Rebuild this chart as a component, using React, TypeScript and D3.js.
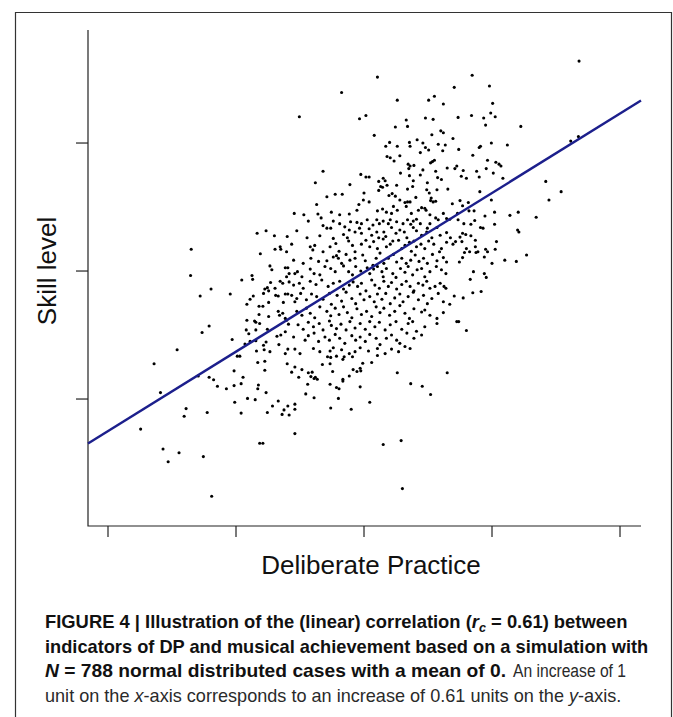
import React, { useLayoutEffect, useRef, useState } from "react";
import * as d3 from "d3";

// Unlabelled axes: ticks every 2 SD units
const xTicks = [-4, -2, 0, 2, 4];
const yTicks = [-2, 0, 2];
const xDomain = [-4.3125, 4.328];
const yDomain = [-3.984, 3.766];
const slope = 0.62;
const intercept = -0.02;

const xLabel = "Deliberate Practice";
const yLabel = "Skill level";

// [deliberate practice, skill level], grouped by region
const groupTopCenter: number[][] = [
  [0.21,3.03],[-0.35,2.79],[0.52,2.67],[1.01,2.67],[1.10,2.73],[1.24,2.61],[-1.01,2.41],[-0.07,2.38],[0.03,2.43],[0.66,2.36],
  [0.96,2.39],[1.08,2.37],[0.49,2.25],[0.68,2.26],[0.16,2.12],[1.06,2.13],[1.20,2.19],[1.24,2.16],[0.34,1.95],[0.40,2.01],
  [0.52,1.95],[0.71,2.01],[0.72,1.95],[0.83,2.05],[0.92,2.00],[0.96,1.93],[1.01,1.89],[1.16,1.98],[1.27,1.97],[0.88,1.85],
  [1.23,1.88],[0.36,1.79],[0.41,1.77],[0.47,1.72],[0.56,1.80],[0.69,1.67],[0.72,1.64],[0.78,1.65],[0.70,1.60],[1.04,1.69],
  [1.07,1.71],[1.10,1.73],[-0.64,1.56],[-0.05,1.51],[0.03,1.47],[0.08,1.47],[0.57,1.53],[0.71,1.49],[0.92,1.58],[1.12,1.56],
  [1.30,1.61],[0.88,1.50],[1.15,1.46],[1.21,1.43],[-0.76,1.38],[-0.22,1.35],[0.23,1.40],[0.30,1.45],[0.33,1.41],[0.26,1.32],
  [0.29,1.31],[0.36,1.34],[0.51,1.34],[0.77,1.41],[0.99,1.38],[0.68,1.28],[0.76,1.32],[0.23,1.26],[0.98,1.27],[1.02,1.22],
  [1.14,1.27],[1.31,1.28],[-0.58,1.16],[-0.45,1.20],[-0.34,1.20],[0.00,1.22],[0.39,1.18],[0.44,1.21],[0.49,1.17],[0.56,1.11],
  [0.72,1.08],[0.81,1.15],[1.05,1.14],[1.04,1.10],[1.08,1.08],[1.12,1.09],[-0.74,1.04],[-0.08,1.04],[-0.01,1.11],[0.08,1.08],
  [0.64,1.07],[0.68,1.08],
];

const groupTopRight: number[][] = [
  [3.36,3.28],[1.69,3.06],[1.41,2.87],[1.96,2.89],[2.01,2.62],[1.47,2.40],[1.68,2.43],[1.87,2.39],[1.98,2.47],[2.05,2.41],
  [1.90,2.28],[2.45,2.26],[1.39,2.07],[3.23,2.03],[3.35,2.10],[1.48,1.90],[1.99,2.00],[1.80,1.93],[1.82,1.95],[2.24,1.97],
  [1.70,1.81],[1.42,1.60],[1.45,1.64],[1.55,1.57],[1.93,1.73],[2.06,1.70],[2.11,1.67],[2.14,1.64],[1.76,1.56],[1.91,1.60],
  [2.02,1.53],[1.52,1.48],[1.60,1.45],[1.80,1.47],[2.17,1.45],[2.84,1.40],[1.81,1.24],[3.08,1.24],[1.38,1.05],[1.50,1.10],
  [1.63,1.07],[1.99,1.11],[2.89,1.11],
];

const groupLeftMid: number[][] = [
  [-1.67,0.59],[-1.53,0.63],[-1.40,0.55],[-1.20,0.54],[-2.70,0.34],[-1.62,0.27],[-1.39,0.34],[-1.31,0.38],[-1.30,0.34],[-1.21,0.30],
  [-2.71,-0.07],[-1.47,0.08],[-1.44,0.02],[-1.23,0.05],[-1.19,0.05],[-1.17,-0.04],[-1.21,-0.09],[-1.91,-0.14],[-1.75,-0.07],[-1.74,-0.13],
  [-1.31,-0.16],[-1.27,-0.19],[-1.17,-0.17],[-1.46,-0.18],[-2.39,-0.28],[-2.56,-0.39],[-2.09,-0.36],[-1.57,-0.35],[-1.55,-0.28],[-1.51,-0.26],
  [-1.49,-0.31],[-1.39,-0.27],[-1.38,-0.38],[-1.34,-0.39],[-1.23,-0.36],[-1.19,-0.36],[-1.78,-0.44],[-1.73,-0.39],[-1.83,-0.52],[-1.64,-0.55],
  [-1.58,-0.55],[-1.49,-0.49],[-1.26,-0.49],[-1.34,-0.63],[-1.32,-0.69],[-1.27,-0.66],[-1.83,-0.77],[-1.71,-0.78],[-1.69,-0.80],[-1.63,-0.82],
  [-1.23,-0.74],[-1.64,-0.68],[-1.49,-0.71],[-2.42,-0.86],[-2.53,-0.96],[-1.84,-0.92],[-1.69,-0.92],[-1.51,-0.91],[-1.36,-1.02],[-1.30,-1.00],
  [-1.23,-0.95],[-1.18,-0.83],[-1.21,-0.77],[-2.06,-1.07],[-1.86,-1.14],[-1.80,-0.98],[-1.78,-1.10],[-1.69,-1.09],[-1.57,-1.16],[-1.53,-1.11],
  [-1.56,-1.23],[-1.47,-1.26],[-1.68,-1.25],[-2.92,-1.23],[-1.33,-1.15],[-1.19,-1.22],[-1.23,-1.29],
];

const groupCenter: number[][] = [
  [-1.09,0.90],[-0.94,0.88],[-0.72,0.89],[-0.67,0.83],[-0.51,0.92],[-0.38,0.88],[-0.23,0.89],[-0.11,0.95],[0.21,0.94],[0.29,0.97],
  [0.35,0.92],[0.43,0.90],[0.46,1.01],[0.52,0.95],[0.66,1.01],[0.74,0.90],[0.85,0.95],[0.95,0.98],[1.03,0.88],[1.12,0.83],
  [1.24,0.90],[0.90,0.99],[0.97,0.95],
  [-0.87,0.78],[-0.48,0.78],[-0.38,0.74],[-0.30,0.69],[-0.21,0.77],[-0.11,0.76],[-0.04,0.74],[0.05,0.80],[0.14,0.72],[0.20,0.80],
  [0.24,0.74],[0.30,0.78],[0.38,0.74],[0.41,0.80],[0.51,0.77],[0.61,0.74],[0.68,0.80],[0.73,0.73],[0.77,0.78],[0.82,0.81],
  [0.88,0.74],[1.03,0.74],[1.16,0.80],[1.29,0.82],[-0.64,0.71],[-0.52,0.67],
  [-1.05,0.63],[-0.89,0.52],[-0.69,0.55],[-0.58,0.67],[-0.48,0.51],[-0.32,0.57],[-0.26,0.52],[-0.23,0.64],[-0.14,0.61],[-0.07,0.67],
  [-0.04,0.59],[0.08,0.66],[0.12,0.56],[0.20,0.61],[0.23,0.52],[0.31,0.61],[0.34,0.54],[0.43,0.68],[0.50,0.59],[0.56,0.64],
  [0.63,0.61],[0.67,0.52],[0.77,0.68],[0.82,0.63],[0.90,0.56],[0.98,0.61],[1.06,0.52],[1.14,0.68],[1.19,0.56],[1.29,0.60],[0.99,0.67],
  [-1.13,0.42],[-0.84,0.38],[-0.80,0.33],[-0.77,0.40],[-0.64,0.30],[-0.53,0.38],[-0.44,0.43],[-0.39,0.31],[-0.24,0.47],[-0.18,0.40],
  [-0.14,0.30],[-0.04,0.42],[0.03,0.48],[0.09,0.38],[0.15,0.46],[0.21,0.35],[0.30,0.50],[0.35,0.38],[0.41,0.42],[0.45,0.47],
  [0.54,0.48],[0.59,0.35],[0.64,0.40],[0.71,0.45],[0.78,0.47],[0.82,0.38],[0.89,0.42],[0.95,0.35],[1.01,0.47],[1.09,0.42],
  [1.21,0.35],[1.29,0.45],[0.74,0.31],
  [-1.10,0.17],[-0.95,0.12],[-0.83,0.20],[-0.71,0.15],[-0.58,0.16],[-0.48,0.22],[-0.43,0.24],[-0.40,0.20],[-0.35,0.12],[-0.28,0.26],
  [-0.22,0.17],[-0.14,0.20],[-0.02,0.25],[0.02,0.16],[0.14,0.09],[0.19,0.20],[0.25,0.28],[0.31,0.12],[0.38,0.20],[0.46,0.26],
  [0.51,0.14],[0.59,0.20],[0.66,0.12],[0.73,0.17],[0.80,0.25],[0.86,0.15],[0.93,0.20],[0.99,0.12],[1.07,0.26],[1.14,0.16],
  [1.24,0.21],[1.29,0.14],[1.18,0.30],
  [-1.08,-0.04],[-1.04,-0.01],[-0.97,-0.09],[-0.84,0.03],[-0.78,-0.04],[-0.69,-0.06],[-0.61,0.07],[-0.52,0.04],[-0.45,-0.01],[-0.32,0.08],
  [-0.24,-0.01],[-0.18,-0.06],[-0.13,0.07],[-0.05,0.00],[0.05,0.05],[0.09,-0.04],[0.15,0.03],[0.21,0.07],[0.28,-0.01],[0.30,-0.09],
  [0.35,0.04],[0.45,-0.04],[0.50,-0.10],[0.57,0.04],[0.64,-0.02],[0.69,0.07],[0.76,-0.06],[0.83,0.02],[0.90,0.04],[0.95,-0.09],
  [1.03,-0.01],[1.13,0.07],[1.21,0.02],[1.28,-0.04],
  [-1.10,-0.22],[-1.01,-0.19],[-0.95,-0.27],[-0.84,-0.16],[-0.75,-0.21],[-0.66,-0.14],[-0.56,-0.24],[-0.48,-0.19],[-0.38,-0.16],[-0.32,-0.28],
  [-0.23,-0.22],[-0.17,-0.17],[-0.10,-0.24],[-0.04,-0.19],[0.03,-0.31],[0.12,-0.14],[0.17,-0.22],[0.24,-0.27],[0.31,-0.16],[0.38,-0.24],
  [0.43,-0.18],[0.51,-0.28],[0.59,-0.21],[0.66,-0.16],[0.72,-0.24],[0.78,-0.31],[0.85,-0.19],[0.92,-0.22],[0.98,-0.16],[1.03,-0.27],
  [1.11,-0.24],[1.19,-0.19],[1.25,-0.24],[1.28,-0.27],
  [-1.13,-0.38],[-1.08,-0.48],[-1.05,-0.43],[-0.99,-0.35],[-0.90,-0.45],[-0.82,-0.36],[-0.74,-0.40],[-0.64,-0.44],[-0.54,-0.35],[-0.51,-0.52],
  [-0.42,-0.38],[-0.35,-0.47],[-0.28,-0.33],[-0.19,-0.43],[-0.13,-0.51],[-0.06,-0.36],[0.00,-0.45],[0.09,-0.40],[0.16,-0.48],[0.21,-0.36],
  [0.28,-0.44],[0.34,-0.35],[0.41,-0.51],[0.48,-0.42],[0.56,-0.36],[0.61,-0.48],[0.69,-0.40],[0.77,-0.33],[0.85,-0.45],[0.93,-0.38],
  [0.99,-0.51],[1.06,-0.43],[1.16,-0.35],[1.24,-0.48],
  [-1.05,-0.63],[-0.97,-0.69],[-0.90,-0.58],[-0.84,-0.66],[-0.77,-0.73],[-0.69,-0.56],[-0.58,-0.63],[-0.52,-0.70],[-0.45,-0.58],[-0.39,-0.68],
  [-0.32,-0.56],[-0.26,-0.65],[-0.19,-0.73],[-0.11,-0.59],[-0.04,-0.68],[0.04,-0.63],[0.12,-0.71],[0.19,-0.56],[0.25,-0.65],[0.31,-0.58],
  [0.40,-0.69],[0.48,-0.63],[0.56,-0.54],[0.64,-0.66],[0.71,-0.74],[0.78,-0.59],[0.90,-0.64],[0.95,-0.61],[1.03,-0.69],[1.14,-0.74],[1.24,-0.65],
  [-1.03,-0.84],[-0.95,-0.91],[-0.87,-0.80],[-0.79,-0.87],[-0.70,-0.82],[-0.64,-0.92],[-0.54,-0.78],[-0.51,-0.85],[-0.43,-0.90],[-0.36,-0.83],
  [-0.28,-0.92],[-0.22,-0.79],[-0.14,-0.89],[-0.06,-0.82],[0.02,-0.91],[0.09,-0.79],[0.17,-0.87],[0.24,-0.80],[0.33,-0.92],[0.41,-0.84],
  [0.50,-0.79],[0.59,-0.91],[0.69,-0.82],[0.76,-0.79],[0.82,-0.94],[0.95,-0.87],[1.14,-0.82],
  [-1.10,-1.03],[-0.92,-1.08],[-0.87,-1.01],[-0.78,-0.97],[-0.71,-1.10],[-0.61,-1.03],[-0.54,-1.08],[-0.45,-0.99],[-0.38,-1.05],[-0.30,-1.13],
  [-0.19,-1.01],[-0.13,-1.08],[-0.06,-1.03],[0.02,-1.10],[0.09,-0.99],[0.19,-1.05],[0.25,-1.15],[0.35,-1.05],[0.43,-1.00],[0.51,-1.08],
  [0.56,-1.13],[0.67,-0.97],[0.78,-1.05],[0.90,-1.00],
  [-1.08,-1.22],[-1.00,-1.29],[-0.79,-1.21],[-0.69,-1.26],[-0.53,-1.25],[-0.48,-1.20],[-0.35,-1.23],[-0.23,-1.29],[-0.14,-1.26],[-0.06,-1.20],
  [0.07,-1.25],[0.21,-1.21],[0.33,-1.29],[0.43,-1.22],[0.54,-1.26],[0.64,-1.18],[0.72,-1.21],
];

const groupRightMid: number[][] = [
  [1.54,1.02],[1.72,0.94],[1.64,0.94],[1.46,0.90],[1.34,0.81],[1.47,0.80],[1.56,0.74],[1.67,0.73],[1.73,0.79],[1.89,0.86],
  [2.04,0.92],[2.04,0.73],[2.28,0.87],[2.41,0.92],[2.69,0.84],[1.82,0.68],[1.86,0.67],[2.40,0.64],[2.42,0.61],[1.54,0.59],
  [1.59,0.57],[1.67,0.55],[1.50,0.53],[1.35,0.52],[1.43,0.46],[1.39,0.42],[1.53,0.46],[1.74,0.48],[2.07,0.46],[1.74,0.38],
  [1.60,0.35],[1.65,0.30],[1.57,0.29],[1.75,0.29],[1.78,0.30],[1.90,0.34],[1.93,0.30],[2.05,0.34],[1.88,0.22],[1.54,0.21],
  [1.49,0.14],[2.00,0.12],[2.20,0.17],[2.38,0.15],[2.54,0.25],[1.71,-0.01],[1.88,-0.04],[1.91,-0.10],[1.66,-0.13],[1.41,-0.39],
  [1.55,-0.42],[1.70,-0.34],[1.83,-0.32],[1.34,-0.52],[1.45,-0.79],[1.48,-0.79],[1.60,-0.93],
];

const groupBottomLeft: number[][] = [
  [-3.28,-1.45],[-3.18,-1.90],[-3.49,-2.47],[-2.59,-1.64],[-2.42,-1.66],[-2.35,-1.70],[-2.29,-1.80],[-2.15,-1.84],[-2.03,-1.56],[-2.03,-1.79],
  [-2.02,-2.05],[-1.92,-1.76],[-1.89,-1.66],[-1.92,-2.22],[-1.82,-1.99],[-1.70,-2.01],[-1.66,-1.43],[-1.65,-1.78],[-1.66,-1.84],[-1.55,-1.41],
  [-1.55,-1.55],[-1.53,-1.90],[-1.51,-2.21],[-1.43,-2.11],[-1.34,-2.03],[-1.28,-2.24],[-1.25,-2.17],[-1.19,-2.11],[-1.17,-2.25],[-1.20,-1.45],
  [-2.78,-2.15],[-2.81,-2.27],[-2.45,-2.21],[-3.14,-2.78],[-3.06,-2.98],[-2.89,-2.84],[-2.51,-2.90],[-1.63,-2.69],[-1.58,-2.69],[-2.38,-3.52],
  [-1.98,-1.33],[-1.94,-1.33],
];

const groupBottomCenter: number[][] = [
  [-1.08,-1.50],[-1.13,-1.58],[-1.02,-1.66],[-0.97,-1.54],[-0.87,-1.59],[-0.81,-1.58],[-0.83,-1.65],[-0.76,-1.66],[-0.78,-1.68],[-0.73,-1.69],
  [-0.88,-1.77],[-0.91,-1.92],[-0.78,-1.98],[-0.65,-1.46],[-0.53,-1.45],[-0.49,-1.57],[-0.57,-1.34],[-0.52,-1.35],[-0.43,-1.33],[-0.33,-1.38],
  [-0.31,-1.34],[-0.18,-1.34],[-0.17,-1.54],[-0.11,-1.57],[-0.06,-1.52],[-0.05,-1.56],[-0.02,-1.44],[0.12,-1.43],[0.21,-1.32],[-0.23,-1.64],
  [-0.33,-1.69],[-0.33,-1.72],[-0.53,-1.77],[-0.43,-1.82],[-0.39,-1.84],[-0.40,-1.99],[-0.06,-1.81],[-0.52,-2.14],[-0.20,-2.16],[0.09,-2.05],
  [-1.08,-2.08],[-1.08,-2.16],[-1.08,-2.54],[0.52,-1.59],[0.73,-1.76],[0.91,-1.80],[1.04,-1.93],[1.30,-1.59],[0.30,-2.71],[0.58,-2.65],
  [0.60,-3.40],
];

const allPoints = [
  ...groupTopCenter, ...groupTopRight, ...groupLeftMid, ...groupCenter,
  ...groupRightMid, ...groupBottomLeft, ...groupBottomCenter,
];

// A caption line squeezed horizontally to a target width (condensed face)
function FitText(props: {
  x: number; y: number; width: number; children: React.ReactNode;
  fontWeight?: string; fill?: string;
}) {
  const { x, y, width, children, fontWeight, fill } = props;
  const ref = useRef<SVGTextElement>(null);
  const [k, setK] = useState(0.86);
  useLayoutEffect(() => {
    if (ref.current) {
      const w = ref.current.getBBox().width;
      if (w > 0) setK(width / w);
    }
  }, [width]);
  return (
    <text
      ref={ref}
      transform={`translate(${x},${y}) scale(${k},1)`}
      fontWeight={fontWeight}
      fill={fill}
    >
      {children}
    </text>
  );
}

export default function App() {
  const W = 673;
  const H = 717;
  const x = d3.scaleLinear().domain(xDomain).range([88, 641]);
  const y = d3.scaleLinear().domain(yDomain).range([526, 30]);
  const [x0, x1] = x.range();
  const [yb, yt] = y.range();

  const fitLine = d3.line<number>()
    .x((v) => x(v))
    .y((v) => y(intercept + slope * v))(xDomain as number[]) || "";

  const axisColor = "#222";
  const captionFont = "'Liberation Sans', Arial, Helvetica, sans-serif";

  return (
    <svg
      width={W}
      height={H}
      viewBox={`0 0 ${W} ${H}`}
      style={{ position: "absolute", left: 0, top: 0, background: "#fff" }}
    >
      <rect x={0} y={0} width={W} height={H} fill="#fff" />
      {/* outer frame */}
      <path d={`M15.5,${H + 2} V12.5 H671.5 V${H + 2}`} fill="none" stroke="#333" strokeWidth={1.2} />

      {/* L-shaped box */}
      <path d={`M${x0},${yt} V${yb} H${x1}`} fill="none" stroke={axisColor} strokeWidth={1.2} />

      {/* x ticks */}
      {xTicks.map((t) => (
        <line key={`xt${t}`} x1={x(t)} x2={x(t)} y1={yb} y2={yb + 11} stroke={axisColor} strokeWidth={1.2} />
      ))}
      {/* y ticks */}
      {yTicks.map((t) => (
        <line key={`yt${t}`} x1={x0} x2={x0 - 12} y1={y(t)} y2={y(t)} stroke={axisColor} strokeWidth={1.2} />
      ))}

      {/* points */}
      <g fill="#000">
        {allPoints.map((p, i) => (
          <circle key={i} cx={x(p[0])} cy={y(p[1])} r={1.55} />
        ))}
      </g>

      {/* regression line */}
      <path d={fitLine} fill="none" stroke="#1c1f8c" strokeWidth={2.4} />

      {/* axis titles */}
      <text
        x={371}
        y={574}
        textAnchor="middle"
        fontFamily="'Liberation Sans', Arial, Helvetica, sans-serif"
        fontSize={26}
        fill="#111"
      >
        {xLabel}
      </text>
      <text
        transform={`translate(56, ${y(0)}) rotate(-90)`}
        textAnchor="middle"
        fontFamily="'Liberation Sans', Arial, Helvetica, sans-serif"
        fontSize={26}
        fill="#111"
      >
        {yLabel}
      </text>

      {/* caption */}
      <g fontFamily={captionFont} fontSize={19} fill="#111">
        <FitText x={45} y={628} width={582} fontWeight="bold">
          FIGURE 4 | Illustration of the (linear) correlation (<tspan fontStyle="italic">r</tspan><tspan fontStyle="italic" fontSize={13} dy={4}>c</tspan><tspan dy={-4}> = 0.61) between</tspan>
        </FitText>
        <FitText x={45} y={653} width={603} fontWeight="bold">
          indicators of DP and musical achievement based on a simulation with
        </FitText>
        <FitText x={45} y={677} width={461} fontWeight="bold">
          <tspan fontStyle="italic">N</tspan> = 788 normal distributed cases with a mean of 0.
        </FitText>
        <FitText x={513} y={677} width={113} fill="#2a2a2a">
          An increase of 1
        </FitText>
        <FitText x={45} y={702} width={576} fill="#2a2a2a">
          unit on the <tspan fontStyle="italic">x</tspan>-axis corresponds to an increase of 0.61 units on the <tspan fontStyle="italic">y</tspan>-axis.
        </FitText>
      </g>
    </svg>
  );
}
